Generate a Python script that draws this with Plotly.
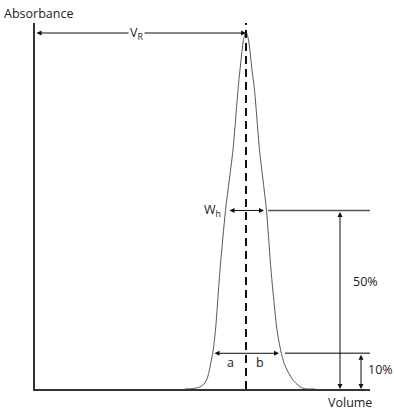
import plotly.graph_objects as go

# Peak profile (volume units, absorbance in % of peak height)
peak_volume = [150, 158, 165, 169, 172, 174, 176, 178, 180.5, 185, 190.5, 198, 203, 205, 208.5, 211,
               213.5, 217, 219.5, 224.5, 231.5, 236, 242, 246, 249, 253, 258, 263, 267, 272, 280]
peak_absorb = [0, 0.1, 0.6, 1.4, 2.8, 4.8, 7.6, 10.4, 16.5, 33.3, 50, 67, 83.8, 89.4, 97.8, 100,
               97.8, 89.4, 83.8, 67, 50, 33.3, 16.5, 10.4, 7.3, 4.8, 2.5, 1.1, 0.3, 0, 0]

x_max = 335
y_max = 102.5
v_r = 211            # retention volume (peak apex)
half_level = 50      # 50 % level
tenth_level = 10     # 10 % level
wh_left, wh_right = 193, 229
ab_left, ab_right = 178, 244
line50_start = 233
line10_start = 250
arrow50_x = 305
arrow10_x = 326

TEXT = "#222222"
FONT = "Open Sans"
FS = 12.5

fig = go.Figure()

# peak curve
fig.add_trace(go.Scatter(x=peak_volume, y=peak_absorb, mode="lines",
                         line=dict(color="#555555", width=1, shape="spline", smoothing=0.6),
                         hoverinfo="skip"))
# dashed retention line
fig.add_trace(go.Scatter(x=[v_r, v_r], y=[0, y_max], mode="lines",
                         line=dict(color="#111111", width=2, dash="8px,5px"), hoverinfo="skip"))
# 50% and 10% level lines
fig.add_trace(go.Scatter(x=[line50_start, x_max], y=[half_level, half_level], mode="lines",
                         line=dict(color="#555555", width=1.5), hoverinfo="skip"))
fig.add_trace(go.Scatter(x=[line10_start, x_max], y=[tenth_level, tenth_level], mode="lines",
                         line=dict(color="#555555", width=1.5), hoverinfo="skip"))


def dbl_arrow(x0, y0, x1, y1):
    fig.add_annotation(x=x1, y=y1, ax=x0, ay=y0, xref="x", yref="y", axref="x", ayref="y",
                       text="", showarrow=True, arrowhead=2, startarrowhead=2,
                       arrowside="end+start", arrowsize=1, startarrowsize=1,
                       arrowwidth=1, arrowcolor="#111111", standoff=0, startstandoff=0)


dbl_arrow(0, 99.7, v_r, 99.7)
dbl_arrow(wh_left, half_level, wh_right, half_level)
dbl_arrow(ab_left, tenth_level, ab_right, tenth_level)
dbl_arrow(arrow50_x, half_level, arrow50_x, 0)
dbl_arrow(arrow10_x, tenth_level, arrow10_x, 0)


def label(x, y, text, xanchor="center", ref="data"):
    xr, yr = ("x", "y") if ref == "data" else ("paper", "paper")
    fig.add_annotation(x=x, y=y, xref=xr, yref=yr, text=text, showarrow=False,
                       xanchor=xanchor, yanchor="middle",
                       font=dict(family=FONT, size=FS, color=TEXT))


fig.add_annotation(x=101, y=99.7, xref="x", yref="y", text="V<sub>R</sub>", showarrow=False,
                   bgcolor="white", borderpad=1, font=dict(family=FONT, size=FS, color=TEXT))
label(177, 50, "W<sub>h</sub>")
label(195, 7.3, "a")
label(225, 7.3, "b")
label(330, 30, "50%")
label(1.03, 0.052, "10%", ref="paper")
label(-0.098, 1.027, "Absorbance", xanchor="left", ref="paper")
label(0.94, -0.036, "Volume", ref="paper")

fig.update_layout(
    width=394, height=412,
    margin=dict(l=35, r=24, t=23, b=23),
    plot_bgcolor="white", paper_bgcolor="white",
    showlegend=False,
    xaxis=dict(range=[0, x_max], showgrid=False, zeroline=False, showticklabels=False,
               ticks="", showline=True, linecolor="#333333", linewidth=1.5),
    yaxis=dict(range=[0, y_max], showgrid=False, zeroline=False, showticklabels=False,
               ticks="", showline=True, linecolor="#333333", linewidth=1.5),
)

# remove the page's default 8px body margin so the figure fills the window exactly
fig.write_html("out.html", config={"displayModeBar": False},
               post_script="document.body.style.margin='0';document.body.style.overflow='hidden';")
